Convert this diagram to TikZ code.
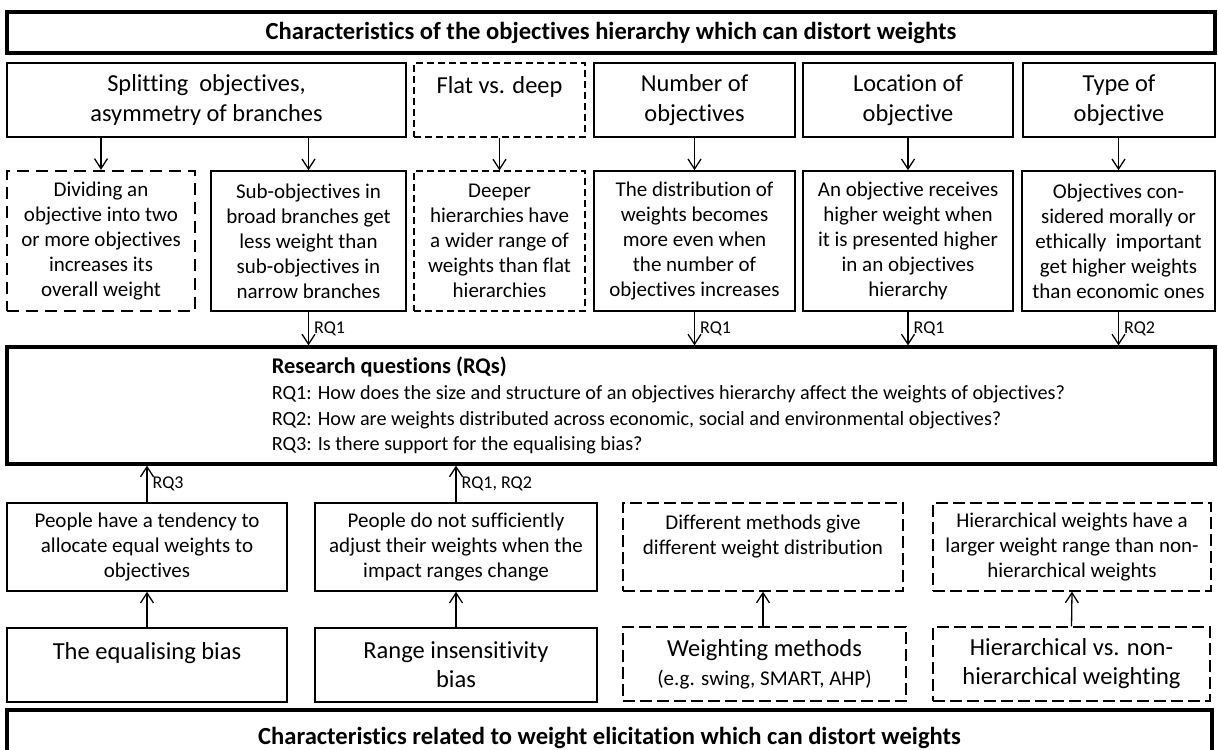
\documentclass[tikz,border=0pt]{standalone}
\usepackage{fontspec}
\setmainfont{Carlito}[Ligatures=NoCommon]
\usetikzlibrary{arrows.meta,positioning}
\tikzset{
  bigbox/.style={draw, line width=1.6pt, inner sep=0pt, align=center},
  cellbox/.style={draw, line width=0.8pt, inner sep=0pt, align=center},
  titlefont/.style={font=\bfseries\fontsize{12.3}{14}\selectfont},
  headfont/.style={font=\fontsize{12.2}{15}\selectfont},
  bodyfont/.style={font=\fontsize{10.5}{12.5}\selectfont},
  lowfont/.style={font=\fontsize{12.25}{14.5}\selectfont},
  dashedbold/.style={dash pattern=on 6pt off 3.5pt, line width=1.2pt},
  dashedfine/.style={dash pattern=on 3.5pt off 2pt, line width=0.6pt},
  dashedlong/.style={dash pattern=on 6pt off 2.5pt, line width=0.7pt},
  link/.style={line width=0.65pt, -{Straight Barb[length=5pt,width=6.5pt]}},
  rqlabel/.style={font=\fontsize{9}{10}\selectfont, inner sep=2.5pt, right}
}
\begin{document}
\begin{tikzpicture}[x=0.5pt,y=-0.5pt]
  \useasboundingbox (0,0) rectangle (1218,749);
  \clip (0,0) rectangle (1218,749);

  % top title
  \node[bigbox, titlefont, minimum width=604pt, minimum height=20.5pt] (toptitle) at (611,32.5) {Characteristics of the objectives hierarchy which can distort weights};

  % characteristics of the hierarchy
  \node[cellbox, headfont, minimum width=199.5pt, minimum height=37pt] (splitH) at (206.5,100) {Splitting~ objectives,\\asymmetry of branches};
  \node[cellbox, dashedfine, headfont, minimum width=85.5pt, minimum height=37pt] (flatH) at (499.5,100) {Flat vs. deep\\\mbox{}};
  \node[cellbox, headfont, minimum width=100.5pt, minimum height=37pt] (numH) at (694.5,100) {Number of\\objectives};
  \node[cellbox, headfont, minimum width=105pt, minimum height=37pt] (locH) at (908,100) {Location of\\objective};
  \node[cellbox, headfont, minimum width=96pt, minimum height=37pt] (typeH) at (1119,100) {Type of\\objective};

  % effects
  \node[cellbox, dashedbold, bodyfont, minimum width=94pt, minimum height=70pt] (divE) at (101,241) {Dividing an\\objective into two\\or more objectives\\increases its\\overall weight};
  \node[cellbox, bodyfont, minimum width=97.5pt, minimum height=70pt] (subE) at (308.5,241) {Sub-objectives in\\broad branches get\\less weight than\\sub-objectives in\\narrow branches};
  \node[cellbox, dashedfine, bodyfont, minimum width=85.5pt, minimum height=70pt] (deepE) at (499.5,241) {Deeper\\hierarchies have\\a wider range of\\weights than flat\\hierarchies};
  \node[cellbox, bodyfont, minimum width=100.5pt, minimum height=70pt] (numE) at (694.5,241) {The distribution of\\weights becomes\\more even when\\the number of\\objectives increases};
  \node[cellbox, bodyfont, minimum width=105pt, minimum height=70pt] (locE) at (908,241) {An objective receives\\higher weight when\\it is presented higher\\in an objectives\\hierarchy};
  \node[cellbox, bodyfont, minimum width=96.5pt, minimum height=70pt] (typeE) at (1118.5,241) {Objectives con-\\sidered morally or\\ethically~ important\\get higher weights\\than economic ones};

  \draw[link] (divE.north |- splitH.south) -- (divE.north);
  \draw[link] (subE.north |- splitH.south) -- (subE.north);
  \draw[link] (flatH.south) -- (deepE.north);
  \draw[link] (numH.south) -- (numE.north);
  \draw[link] (locH.south) -- (locE.north);
  \draw[link] (typeE.north |- typeH.south) -- (typeE.north);

  % research questions
  \node[bigbox, minimum width=604pt, minimum height=58.5pt] (rq) at (611,405.5) {};
  \node[anchor=west, inner sep=0pt, align=left, font=\fontsize{10.1}{12.75}\selectfont, right=133pt of rq.west] (rqtext) {{\bfseries\fontsize{11.2}{13}\selectfont Research questions (RQs)}\\[0.5pt]
    RQ1: How does the size and structure of an objectives hierarchy affect the weights of objectives?\\
    RQ2: How are weights distributed across economic, social and environmental objectives?\\
    RQ3: Is there support for the equalising bias?};

  \draw[link] (subE.south) -- (subE.south |- rq.north) node[rqlabel, midway] {RQ1};
  \draw[link] (numE.south) -- (numE.south |- rq.north) node[rqlabel, midway] {RQ1};
  \draw[link] (locE.south) -- (locE.south |- rq.north) node[rqlabel, midway] {RQ1};
  \draw[link] (typeE.south) -- (typeE.south |- rq.north) node[rqlabel, midway] {RQ2};

  % elicitation effects
  \node[cellbox, bodyfont, minimum width=140pt, minimum height=44pt] (eqE) at (147,547) {People have a tendency to\\allocate equal weights to\\objectives};
  \node[cellbox, bodyfont, minimum width=141pt, minimum height=44pt] (rangeE) at (456,547) {People do not sufficiently\\adjust their weights when the\\impact ranges change};
  \node[cellbox, dashedlong, bodyfont, minimum width=140pt, minimum height=44pt] (methE) at (763,547) {Different methods give\\different weight distribution\\\mbox{}};
  \node[cellbox, dashedlong, bodyfont, minimum width=139pt, minimum height=44pt] (hierE) at (1072,547) {Hierarchical weights have a\\larger weight range than non-\\hierarchical weights};

  \draw[link] (eqE.north) -- (eqE.north |- rq.south) node[rqlabel, midway] {RQ3};
  \draw[link] (rangeE.north) -- (rangeE.north |- rq.south) node[rqlabel, midway] {RQ1, RQ2};

  % elicitation characteristics
  \node[cellbox, lowfont, minimum width=140pt, minimum height=37pt] (eqB) at (147,665) {The equalising bias\\\mbox{}};
  \node[cellbox, lowfont, minimum width=141pt, minimum height=37pt] (rangeB) at (456,665) {Range insensitivity\\bias};
  \node[cellbox, dashedlong, lowfont, minimum width=141.5pt, minimum height=37pt] (methB) at (764.5,664) {Weighting methods\\{\fontsize{10.5}{12}\selectfont (e.g. swing, SMART, AHP)}};
  \node[cellbox, dashedlong, lowfont, minimum width=138.5pt, minimum height=37pt] (hierB) at (1071.5,664) {Hierarchical vs. non-\\hierarchical weighting};

  \draw[link] (eqB.north) -- (eqE.south);
  \draw[link] (rangeB.north) -- (rangeE.south);
  \draw[link] (methB.north -| methE.south) -- (methE.south);
  \draw[link] (hierB.north) -- (hierE.south);

  % bottom title
  \node[bigbox, titlefont, minimum width=602.5pt, minimum height=28pt] (bottomtitle) at (609.5,738) {Characteristics related to weight elicitation which can distort weights};
\end{tikzpicture}
\end{document}
